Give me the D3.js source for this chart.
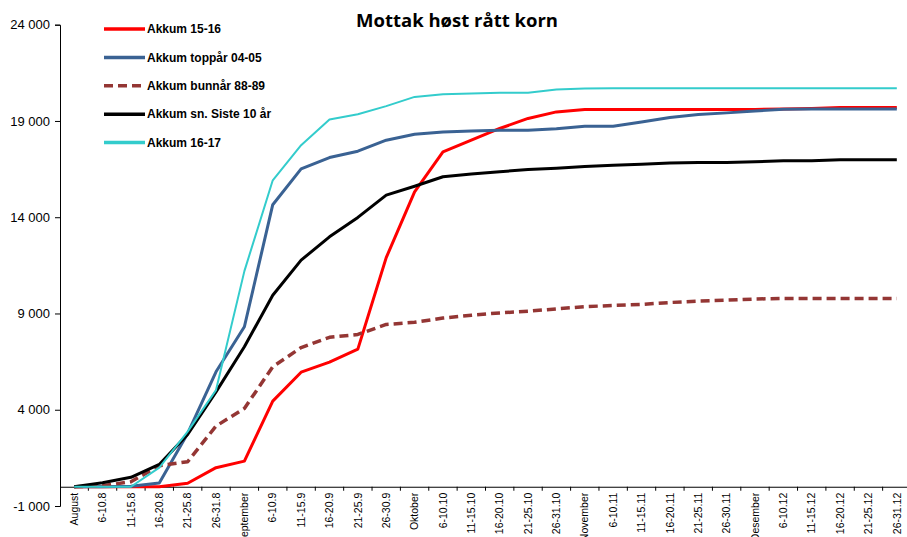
<!DOCTYPE html>
<html>
<head>
<meta charset="utf-8">
<script src="https://cdn.jsdelivr.net/npm/d3@7"></script>
<style>
  body { margin: 0; background: #fff; overflow: hidden; }
  svg { display: block; }
</style>
</head>
<body>
<script>
let w = 907
let h = 537

let categories = ["August", "6-10.8", "11-15.8", "16-20.8", "21-25.8", "26-31.8",
    "September", "6-10.9", "11-15.9", "16-20.9", "21-25.9", "26-30.9",
    "Oktober", "6-10.10", "11-15.10", "16-20.10", "21-25.10", "26-31.10",
    "November", "6-10.11", "11-15.11", "16-20.11", "21-25.11", "26-30.11",
    "Desember", "6-10.12", "11-15.12", "16-20.12", "21-25.12", "26-31.12"]

let akkum1516 = [0, 0, 0, 0, 180, 990, 1330, 4450, 5950, 6470, 7150, 11900,
    15320, 17390, 18000, 18610, 19130, 19470, 19590, 19590, 19590, 19590, 19590, 19590,
    19600, 19620, 19650, 19700, 19700, 19700]
let toppar0405 = [0, 0, 30, 200, 2770, 5970, 8310, 14650, 16510, 17100, 17430, 18000,
    18310, 18430, 18480, 18520, 18520, 18590, 18720, 18730, 18950, 19180, 19330, 19420,
    19520, 19610, 19620, 19620, 19620, 19620]
let bunnar8889 = [0, 50, 260, 1090, 1300, 3150, 4070, 6230, 7230, 7760, 7910, 8430,
    8540, 8760, 8910, 9030, 9120, 9240, 9350, 9420, 9470, 9570, 9640, 9690,
    9750, 9780, 9780, 9780, 9780, 9780]
let siste10 = [0, 210, 490, 1160, 2720, 4930, 7270, 9950, 11770, 12980, 13990, 15150,
    15610, 16100, 16240, 16360, 16480, 16550, 16630, 16700, 16750, 16820, 16840, 16840,
    16880, 16930, 16930, 16980, 16980, 16980]
let akkum1617 = [0, 0, 0, 990, 2860, 5020, 11200, 15920, 17740, 19080, 19350, 19770,
    20250, 20390, 20420, 20460, 20460, 20630, 20680, 20700, 20700, 20700, 20700, 20700,
    20700, 20700, 20700, 20700, 20700, 20700]

let yTicks = [-1000, 4000, 9000, 14000, 19000, 24000]

let series = [
    { name: "Akkum 15-16", values: akkum1516, color: "#ff0000", width: 3, dash: null },
    { name: "Akkum toppår 04-05", values: toppar0405, color: "#3a6293", width: 3, dash: null },
    { name: "Akkum bunnår 88-89", values: bunnar8889, color: "#943634", width: 3.5, dash: "9,5" },
    { name: "Akkum sn. Siste 10 år", values: siste10, color: "#000000", width: 3, dash: null },
    { name: "Akkum 16-17", values: akkum1617, color: "#33cccc", width: 2, dash: null }
]

let svg = d3.select("body")
    .append("svg")
    .attr("width", w)
    .attr("height", h)

let x = d3.scaleBand()
    .domain(categories)
    .range([60, 911])
    .padding(0)

let y = d3.scaleLinear()
    .domain([-1000, 24000])
    .range([506, 24.7])

let fmt = d3.formatLocale({ thousands: " ", grouping: [3], decimal: ",", currency: ["", ""], minus: "-" }).format(",")

// y axis
let yAxis = svg.append("g")
    .attr("transform", "translate(60,0)")
    .call(d3.axisLeft(y).tickValues(yTicks).tickFormat(fmt).tickSize(5).tickPadding(5))
yAxis.select(".domain").attr("stroke", "#000").attr("stroke-width", 1)
yAxis.selectAll("text")
    .attr("font-family", "Liberation Sans, Arial, sans-serif")
    .attr("font-size", 13)
    .attr("fill", "#000")

// x axis at zero
let xAxis = svg.append("g")
    .attr("transform", "translate(0," + y(0) + ")")
    .call(d3.axisBottom(x).tickSize(0).tickPadding(6))
xAxis.select(".domain").attr("stroke", "#000").attr("stroke-width", 1)
xAxis.selectAll("text")
    .attr("font-family", "Liberation Sans, Arial, sans-serif")
    .attr("font-size", 10.5)
    .attr("fill", "#000")
    .attr("text-anchor", "end")
    .attr("transform", "rotate(-90)")
    .attr("x", -6)
    .attr("y", 0)
    .attr("dy", "0.35em")

xAxis.selectAll(".boundary")
    .data(categories)
    .enter()
    .append("line")
    .attr("class", "boundary")
    .attr("x1", d => x(d) + x.bandwidth())
    .attr("x2", d => x(d) + x.bandwidth())
    .attr("y1", 0)
    .attr("y2", 4)
    .attr("stroke", "#000")

// lines
let line = d3.line()
    .x((d, i) => x(categories[i]) + x.bandwidth() / 2)
    .y(d => y(d))

svg.append("g")
    .selectAll("path")
    .data(series)
    .enter()
    .append("path")
    .attr("d", d => line(d.values))
    .attr("fill", "none")
    .attr("stroke", d => d.color)
    .attr("stroke-width", d => d.width)
    .attr("stroke-dasharray", d => d.dash)
    .attr("stroke-linejoin", "round")

// legend
let legend = svg.append("g")
    .selectAll("g")
    .data(series)
    .enter()
    .append("g")
    .attr("transform", (d, i) => "translate(104," + (29 + i * 28.4) + ")")

legend.append("line")
    .attr("x1", 0)
    .attr("x2", 41)
    .attr("stroke", d => d.color)
    .attr("stroke-width", 3.5)
    .attr("stroke-dasharray", d => d.dash ? "9,5" : null)

legend.append("text")
    .attr("x", 43)
    .attr("dy", "0.35em")
    .attr("font-family", "Liberation Sans, Arial, sans-serif")
    .attr("font-weight", "bold")
    .attr("font-size", 12)
    .text(d => d.name)

// title
svg.append("text")
    .attr("x", 457)
    .attr("y", 27)
    .attr("text-anchor", "middle")
    .attr("font-family", "Open Sans, sans-serif")
    .attr("font-weight", "bold")
    .attr("font-size", 18.5)
    .text("Mottak høst rått korn")
</script>
</body>
</html>
